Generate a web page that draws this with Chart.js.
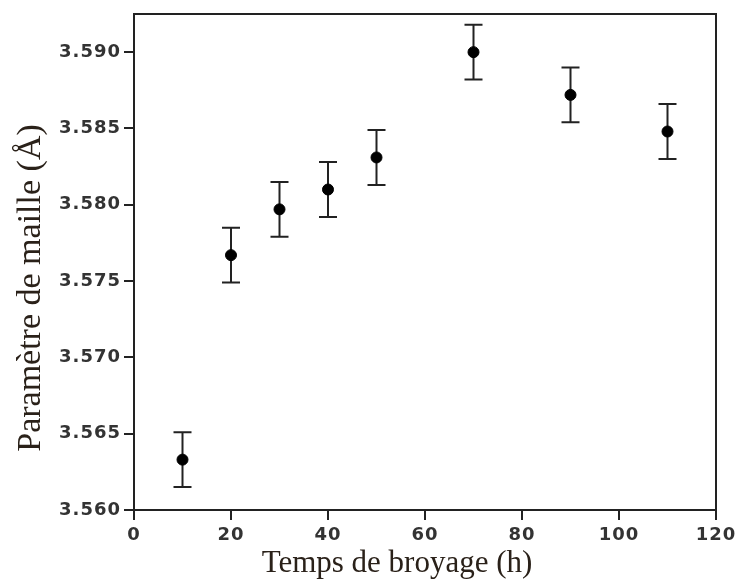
<!DOCTYPE html>
<html>
<head>
<meta charset="utf-8">
<script src="https://cdn.jsdelivr.net/npm/chart.js@4.4.1/dist/chart.umd.min.js"></script>
<style>
  html, body { margin: 0; padding: 0; background: #fff; }
  #wrap { width: 744px; height: 583px; }
</style>
</head>
<body>
<div id="wrap"><canvas id="chart" width="744" height="583"></canvas></div>
<script>
// milling time (h) and lattice parameter (Å)
const millingHours = [10, 20, 30, 40, 50, 70, 90, 110];
const latticeParam = [3.5633, 3.5767, 3.5797, 3.5810, 3.5831, 3.5900, 3.5872, 3.5848];
const latticeErr   = [0.0018, 0.0018, 0.0018, 0.0018, 0.0018, 0.0018, 0.0018, 0.0018];
const yTicks = [3.560, 3.565, 3.570, 3.575, 3.580, 3.585, 3.590];
const xTicks = [0, 20, 40, 60, 80, 100, 120];

const xTitle = 'Temps de broyage (h)';
const yTitle = 'Paramètre de maille (Å)';

const ink = '#222';
const tickFont = { family: 'DejaVu Sans', size: 18, weight: 'bold' };

// slightly wider tick lettering like the original
const spacing = {
    id: 'spacing',
    beforeDraw(chart) { chart.ctx.letterSpacing = '1px'; }
};

// error bars, drawn before the points so the dots sit on top
const errorBars = {
    id: 'errorBars',
    beforeDatasetsDraw(chart) {
        const ctx = chart.ctx;
        const xs = chart.scales.x, ys = chart.scales.y;
        ctx.save();
        ctx.strokeStyle = ink;
        ctx.lineWidth = 2;
        millingHours.forEach((h, i) => {
            const px = xs.getPixelForValue(h);
            const top = ys.getPixelForValue(latticeParam[i] + latticeErr[i]);
            const bot = ys.getPixelForValue(latticeParam[i] - latticeErr[i]);
            ctx.beginPath();
            ctx.moveTo(px, top); ctx.lineTo(px, bot);
            ctx.moveTo(px - 9, top); ctx.lineTo(px + 9, top);
            ctx.moveTo(px - 9, bot); ctx.lineTo(px + 9, bot);
            ctx.stroke();
        });
        ctx.restore();
    }
};

// closing box + axis titles
const frame = {
    id: 'frame',
    afterDraw(chart) {
        const ctx = chart.ctx;
        const a = chart.chartArea;
        ctx.save();
        ctx.letterSpacing = '0px';
        ctx.strokeStyle = ink;
        ctx.lineWidth = 2;
        ctx.beginPath();
        ctx.moveTo(a.left, a.top); ctx.lineTo(a.right, a.top); ctx.lineTo(a.right, a.bottom);
        ctx.stroke();

        ctx.fillStyle = '#2a2119';
        ctx.textAlign = 'center';
        ctx.textBaseline = 'middle';
        ctx.font = '31px "Liberation Serif"';
        ctx.fillText(xTitle, 397, 564);

        ctx.font = '34px "Liberation Serif"';
        ctx.translate(31, 288);
        ctx.rotate(-Math.PI / 2);
        ctx.fillText(yTitle, 0, 0);
        ctx.restore();
    }
};

new Chart(document.getElementById('chart'), {
    type: 'scatter',
    data: {
        datasets: [{
            data: millingHours.map((h, i) => ({ x: h, y: latticeParam[i] })),
            backgroundColor: '#000',
            borderColor: '#000',
            pointRadius: 5.5,
            pointHoverRadius: 5.5,
            showLine: false
        }]
    },
    options: {
        responsive: false,
        animation: false,
        events: [],
        layout: { padding: { left: 0, top: 14, right: 28, bottom: 0 } },
        plugins: {
            legend: { display: false },
            tooltip: { enabled: false }
        },
        scales: {
            x: {
                type: 'linear',
                min: 0,
                max: 120,
                afterBuildTicks: s => { s.ticks = xTicks.map(v => ({ value: v })); },
                afterFit: s => { s.height = 73; },
                grid: { display: true, drawOnChartArea: false, drawTicks: true, tickLength: 10, color: ink, lineWidth: 2 },
                border: { display: true, color: ink, width: 2 },
                ticks: { color: '#333', font: tickFont, padding: 5, maxRotation: 0 }
            },
            y: {
                type: 'linear',
                min: 3.560,
                max: 3.5925,
                afterBuildTicks: s => { s.ticks = yTicks.map(v => ({ value: v })); },
                afterFit: s => { s.width = 134; },
                grid: { display: true, drawOnChartArea: false, drawTicks: true, tickLength: 10, color: ink, lineWidth: 2 },
                border: { display: true, color: ink, width: 2 },
                ticks: { color: '#333', font: tickFont, padding: 3, callback: v => v.toFixed(3) }
            }
        }
    },
    plugins: [spacing, errorBars, frame]
});
</script>
</body>
</html>
